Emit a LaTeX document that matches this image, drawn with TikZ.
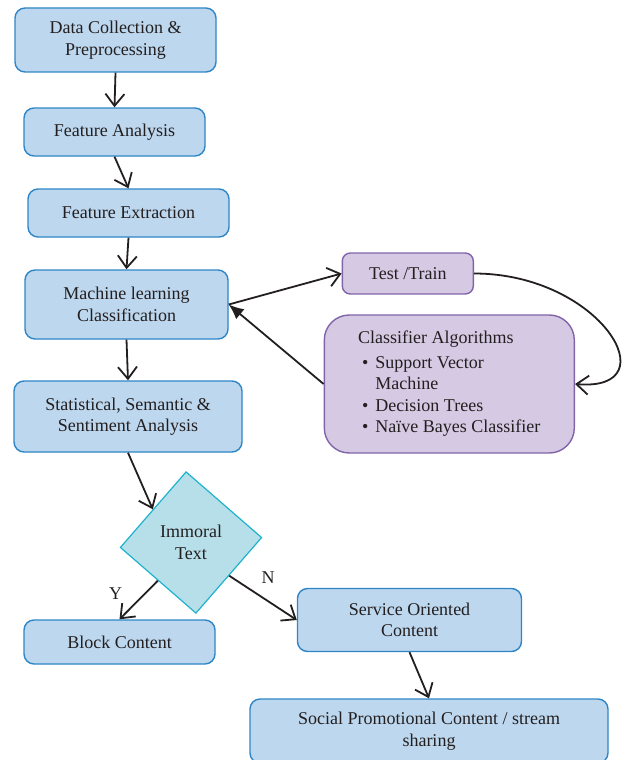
\documentclass[tikz,border=0pt]{standalone}
\usepackage{fontspec}
\setmainfont{Liberation Serif}
\usepackage{tikz}
\usetikzlibrary{shapes, arrows.meta, positioning, calc}
\definecolor{boxblue}{RGB}{189,215,238}
\definecolor{lineblue}{RGB}{46,134,198}
\definecolor{boxlilac}{RGB}{214,201,227}
\definecolor{linelilac}{RGB}{128,100,170}
\definecolor{boxcyan}{RGB}{183,223,233}
\definecolor{linecyan}{RGB}{30,178,204}
\definecolor{inkblack}{RGB}{35,31,32}

\begin{document}
\begin{tikzpicture}[x=1pt, y=-1pt,
  every node/.style={font=\fontsize{18}{21.5}\selectfont, text=inkblack, align=center},
  stage/.style={draw=lineblue, fill=boxblue, line width=1.4pt, rounded corners=10pt, inner sep=0pt},
  algobox/.style={draw=linelilac, fill=boxlilac, line width=1.4pt, inner sep=0pt},
  decide/.style={diamond, draw=linecyan, fill=boxcyan, line width=1.2pt, minimum width=142pt, minimum height=142pt, inner sep=0pt, rotate=4},
  flow/.style={draw=inkblack, line width=1.8pt, -{Straight Barb[length=12pt,width=19pt]}},
]
  \useasboundingbox (0,0) rectangle (621,760);

  % main pipeline
  \node[stage, minimum width=201pt, minimum height=64pt] (collect) at (115.5,40) {Data Collection \&\\Preprocessing};
  \node[stage, minimum width=181pt, minimum height=48pt] (analysis) at (114.5,132) {Feature Analysis};
  \node[stage, minimum width=201pt, minimum height=48pt] (extract) at (128.5,213) {Feature Extraction};
  \node[stage, minimum width=203pt, minimum height=69pt] (ml) at (126.5,304.5) {Machine learning\\Classification};
  \node[stage, minimum width=228pt, minimum height=71pt] (stats) at (128,416.5) {Statistical, Semantic \&\\Sentiment Analysis};

  % decision and outcomes
  \node[decide] (immoral) at (191,542.5) {};
  \node (immoraltxt) at (immoral.center) {Immoral\\Text};
  \node[stage, minimum width=191pt, minimum height=44pt] (block) at (119.5,642) {Block Content};
  \node[stage, minimum width=224pt, minimum height=63pt] (service) at (409.5,620) {Service Oriented\\Content};
  \node[stage, minimum width=358pt, minimum height=64pt] (social) at (429,731) {Social Promotional Content / stream\\sharing};

  % training loop
  \node[algobox, rounded corners=8pt, minimum width=131pt, minimum height=41pt] (test) at (407.8,273.5) {Test /Train};
  \node[algobox, rounded corners=25pt, minimum width=250pt, minimum height=138pt] (algo) at (449.3,384) {%
    \begin{tabular}{@{}l@{\hspace{7pt}}l@{}}
      \multicolumn{2}{@{}l@{}}{Classifier Algorithms}\\[3pt]
      \hspace{4pt}\textbullet & Support Vector\\
                              & Machine\\
      \hspace{4pt}\textbullet & Decision Trees\\
      \hspace{4pt}\textbullet & Naïve Bayes Classifier
    \end{tabular}};

  \draw[flow] (collect.south) -- (analysis.north);
  \draw[flow] (analysis.south) -- (extract.north);
  \draw[flow] (extract.south) -- (ml.north);
  \draw[flow] (ml.south) -- (stats.north);
  \draw[flow] (stats.south) -- ($(immoral.north)!0.5!(immoral.west)$);
  \draw[flow] ($(immoral.west)!0.5!(immoral.south)$) -- (block.north);
  \draw[flow] ($(immoral.south)!0.5!(immoral.east)$) -- (service.west);
  \draw[flow] (service.south) -- (social.north);
  \draw[flow] (ml.east) -- (test.west);
  \draw[flow] (test.east) .. controls +(127,0) and +(96,8) .. (algo.east);
  \draw[draw=inkblack, line width=1.8pt, -{Latex[length=15pt,width=13pt]}] (algo.west) -- (ml.east);

  \node (yes) at (115.7,594) {Y};
  \node (no) at (268,578) {N};
\end{tikzpicture}
\end{document}
